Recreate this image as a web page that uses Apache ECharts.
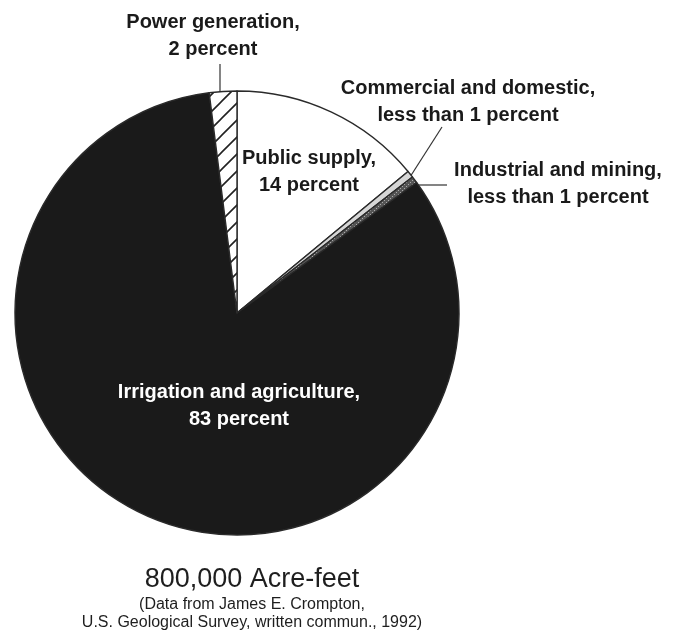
<!DOCTYPE html>
<html>
<head>
<meta charset="utf-8">
<script src="https://cdn.jsdelivr.net/npm/echarts@6/dist/echarts.min.js"></script>
<style>
  html, body { margin: 0; padding: 0; background: #fff; }
  #chart { width: 674px; height: 631px; }
</style>
</head>
<body>
<div id="chart"></div>
<script>
// water use shares, clockwise from 12 o'clock
const categories = ['Public supply', 'Commercial and domestic', 'Industrial and mining', 'Irrigation and agriculture', 'Power generation']
const percents = [14, 0.5, 0.5, 83, 2]
const labelTexts = [
    'Public supply,\n14 percent',
    'Commercial and domestic,\nless than 1 percent',
    'Industrial and mining,\nless than 1 percent',
    'Irrigation and agriculture,\n83 percent',
    'Power generation,\n2 percent'
]
const totalText = '800,000 Acre-feet'
const sourceText = '(Data from James E. Crompton,\nU.S. Geological Survey, written commun., 1992)'

// hatch pattern for power generation
const hatch = document.createElement('canvas')
hatch.width = 17
hatch.height = 17
const hctx = hatch.getContext('2d')
hctx.fillStyle = '#fff'
hctx.fillRect(0, 0, 17, 17)
hctx.strokeStyle = '#222'
hctx.lineWidth = 1.6
hctx.beginPath()
hctx.moveTo(0, 17); hctx.lineTo(17, 0)
hctx.moveTo(-9, 9); hctx.lineTo(9, -9)
hctx.moveTo(8, 26); hctx.lineTo(26, 8)
hctx.stroke()

// small dotted pattern for industrial slice
const dots = document.createElement('canvas')
dots.width = 4
dots.height = 4
const dctx = dots.getContext('2d')
dctx.fillStyle = '#555'
dctx.fillRect(0, 0, 4, 4)
dctx.fillStyle = '#aaa'
dctx.fillRect(0, 0, 1, 1)
dctx.fillRect(2, 2, 1, 1)

const sliceColors = ['#ffffff', '#d6d6d6', { image: dots, repeat: 'repeat' }, '#1a1a1a', { image: hatch, repeat: 'repeat' }]

// label spots (text centre x, top of first line) and leader lines
const labelSpots = [
    { x: 309, y: 145, line: null },
    { x: 468, y: 75, line: [[410, 177], [442, 127]] },
    { x: 558, y: 157, line: [[418, 185], [447, 185]] },
    { x: 239, y: 379, line: null },
    { x: 213, y: 9, line: [[220, 92], [220, 64]] }
]

const myChart = echarts.init(document.getElementById('chart'))
myChart.setOption({
    animation: false,
    backgroundColor: '#ffffff',
    title: {
        text: totalText,
        subtext: sourceText,
        left: 247,
        top: 561,
        textAlign: 'center',
        itemGap: 2,
        textStyle: {
            fontFamily: 'Liberation Sans',
            fontWeight: 'normal',
            fontSize: 27,
            lineHeight: 28,
            color: '#1e1e1e'
        },
        subtextStyle: {
            fontFamily: 'Liberation Sans',
            fontSize: 16,
            lineHeight: 18,
            color: '#1e1e1e',
            align: 'center'
        }
    },
    series: [
        {
            type: 'pie',
            center: [237, 313],
            radius: 222,
            startAngle: 90,
            clockwise: true,
            minAngle: 0,
            avoidLabelOverlap: false,
            itemStyle: {
                borderColor: '#2a2a2a',
                borderWidth: 1.4
            },
            label: {
                show: true,
                position: 'outside',
                formatter: (p) => labelTexts[p.dataIndex],
                fontFamily: 'Liberation Sans',
                fontWeight: 'bold',
                fontSize: 20,
                lineHeight: 27,
                color: '#1a1a1a',
                align: 'center'
            },
            labelLine: {
                show: true,
                lineStyle: { color: '#333', width: 1.2 }
            },
            labelLayout: (params) => {
                const s = labelSpots[params.dataIndex]
                const out = {
                    x: s.x,
                    y: s.y,
                    align: 'center',
                    verticalAlign: 'top'
                }
                if (s.line) out.labelLinePoints = [s.line[0], s.line[1], s.line[1]]
                return out
            },
            data: categories.map((name, i) => ({
                name: name,
                value: percents[i],
                itemStyle: { color: sliceColors[i] },
                label: i === 3 ? { color: '#ffffff' } : {},
                labelLine: { show: !!labelSpots[i].line }
            }))
        }
    ]
})
window.addEventListener('resize', () => {
    myChart.resize()
})
</script>
</body>
</html>
